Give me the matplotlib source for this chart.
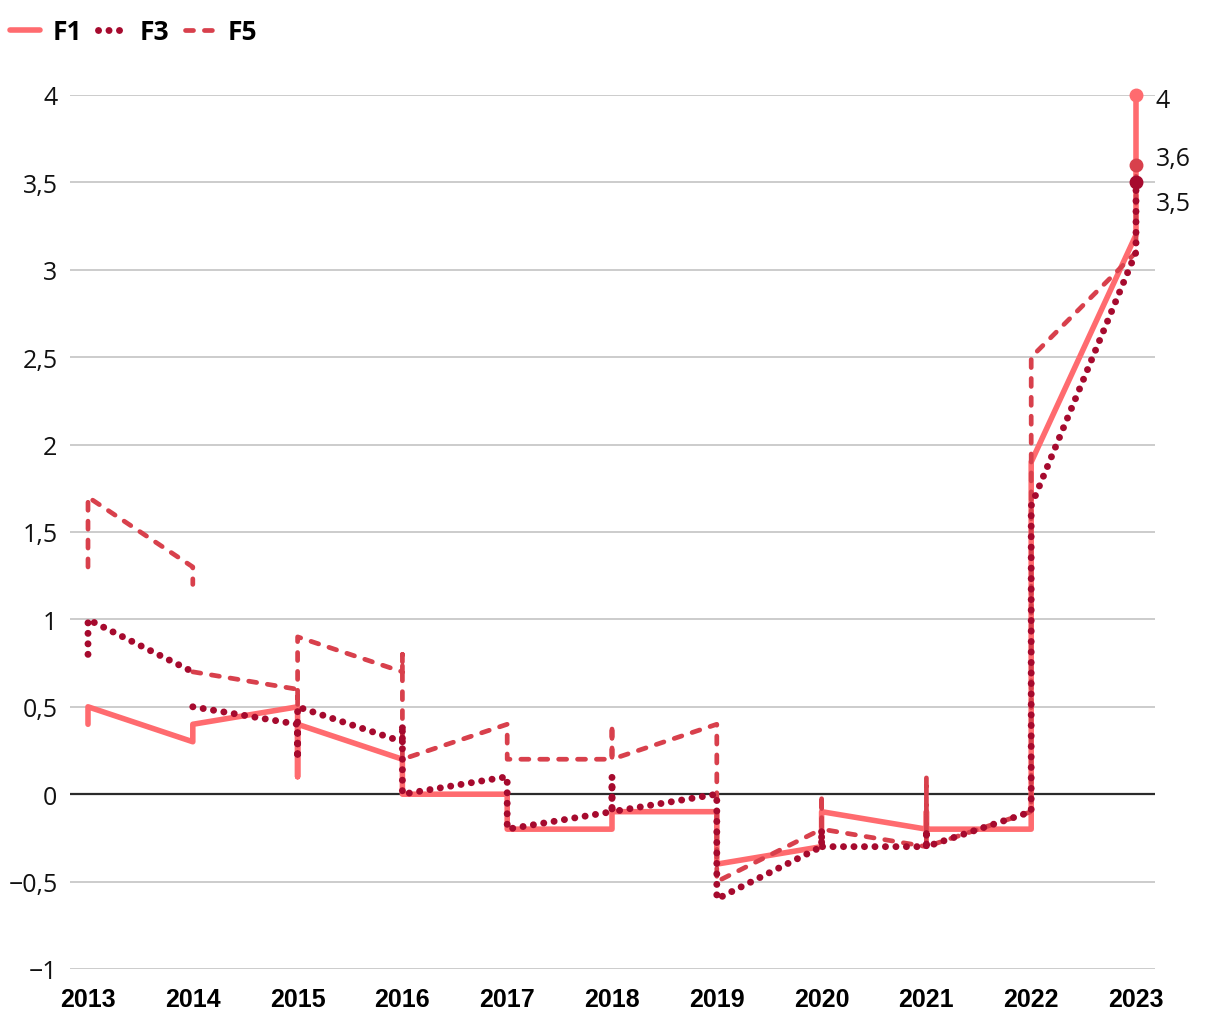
import numpy as np
import matplotlib

matplotlib.use("Agg")

import matplotlib.pyplot as plt
from matplotlib.lines import Line2D
from matplotlib.ticker import FuncFormatter

plt.rcParams["font.family"] = ["Open Sans", "DejaVu Sans"]

# DATA (each year: jump to the new forecast, then line to next year)

nan = np.nan

f1_years = [2013, 2013, 2014, 2014, 2015, 2015, 2015, 2016, 2016, 2017, 2017, 2018,
            2018, 2019, 2019, 2020, 2020, 2021, 2021, 2021, 2022, 2022, 2023, 2023]
f1_values = [0.4, 0.5, 0.3, 0.4, 0.5, 0.1, 0.4, 0.2, 0.0, 0.0, -0.2, -0.2,
             -0.1, -0.1, -0.4, -0.3, -0.1, -0.2, -0.1, -0.2, -0.2, 1.9, 3.2, 4.0]

f3_years = [2013, 2013, 2014, 2014, 2014, 2015, 2015, 2015, 2016, 2016, 2016, 2017, 2017,
            2018, 2018, 2018, 2019, 2019, 2020, 2020, 2020, 2021, 2021, 2021, 2022, 2022,
            2023, 2023]
f3_values = [0.8, 1.0, 0.7, nan, 0.5, 0.4, 0.2, 0.5, 0.3, 0.4, 0.0, 0.1, -0.2,
             -0.1, 0.1, -0.1, 0.0, -0.6, -0.3, -0.2, -0.3, -0.3, -0.2, -0.3, -0.1, 1.65,
             3.1, 3.5]

f5_years = [2013, 2013, 2014, 2014, 2014, 2014, 2015, 2015, 2015, 2016, 2016, 2016, 2017,
            2017, 2018, 2018, 2018, 2019, 2019, 2020, 2020, 2020, 2021, 2021, 2021, 2022,
            2022, 2023, 2023]
f5_values = [1.3, 1.7, 1.3, 1.2, nan, 0.7, 0.6, 0.5, 0.9, 0.7, 0.8, 0.2, 0.4,
             0.2, 0.2, 0.4, 0.2, 0.4, -0.5, -0.2, 0.0, -0.2, -0.3, 0.1, -0.3, -0.1,
             2.5, 3.1, 3.6]

last_labels = ["4", "3,6", "3,5"]

C_F1 = "#ff6b6f"
C_F3 = "#a60a2e"
C_F5 = "#d8404c"

# FIGURE

fig = plt.figure(figsize=(12.2, 10.2), dpi=100)
ax = fig.add_axes([70 / 1220, 1 - 970 / 1020, 1085 / 1220, 874 / 1020])

ax.set_xlim(2013 - 18 / 104.8, 2023 + 19 / 104.8)
ax.set_ylim(-1, 4)

ax.set_yticks(np.arange(-1, 4.01, 0.5))
ax.set_xticks(range(2013, 2024))
ax.grid(axis="y", color="#c4c4c4", lw=1.2, zorder=0)
ax.axhline(0, color="#2b2b2b", lw=1.6, zorder=2)

for s in ax.spines.values():
    s.set_visible(False)

ax.yaxis.set_major_formatter(
    FuncFormatter(lambda v, p: f"{v:g}".replace(".", ",").replace("-", "\u2212"))
)
ax.tick_params(axis="y", length=0, pad=9, labelsize=18, labelcolor="#111111")
ax.tick_params(axis="x", length=0, pad=13)
for lab in ax.get_xticklabels():
    lab.set_fontfamily(["Liberation Sans"])
    lab.set_fontweight("bold")
    lab.set_fontsize(18)

dotted = (0, (0.01, 1.5))
dashed = (0, (1.7, 2.3))

ax.plot(f1_years, f1_values, color=C_F1, lw=4.0, solid_capstyle="round",
        solid_joinstyle="round", zorder=3)
ax.plot(f5_years, f5_values, color=C_F5, lw=3.4, linestyle=dashed,
        dash_capstyle="round", zorder=4)
ax.plot(f3_years, f3_values, color=C_F3, lw=5.0, linestyle=dotted,
        dash_capstyle="round", zorder=5)

# end markers and labels
ends = [
    (f1_years[-1], f1_values[-1], C_F1, 6),
    (f5_years[-1], f5_values[-1], C_F5, -6),
    (f3_years[-1], f3_values[-1], C_F3, 21),
]
for (x, y, c, dy), txt in zip(ends, last_labels):
    ax.plot(x, y, "o", ms=9, color=c, zorder=6, clip_on=False)
    ax.annotate(txt, (x, y), xytext=(14, -dy * 0.72), textcoords="offset points",
                ha="left", va="center", fontsize=18, color="#111111")

# legend
handles = [
    Line2D([], [], color=C_F1, lw=4.0, solid_capstyle="round"),
    Line2D([], [], color=C_F3, lw=5.0, linestyle=dotted, dash_capstyle="round"),
    Line2D([], [], color=C_F5, lw=3.4, linestyle=dashed, dash_capstyle="round"),
]
fig.legend(handles, ["F1", "F3", "F5"], loc="center left",
           bbox_to_anchor=(10 / 1220, 1 - 33 / 1020), borderpad=0, borderaxespad=0,
           ncol=3, frameon=False, handlelength=1.15, handletextpad=0.45,
           columnspacing=0.6, prop={"weight": "bold", "size": 19})

fig.savefig("out.png", dpi=100)
